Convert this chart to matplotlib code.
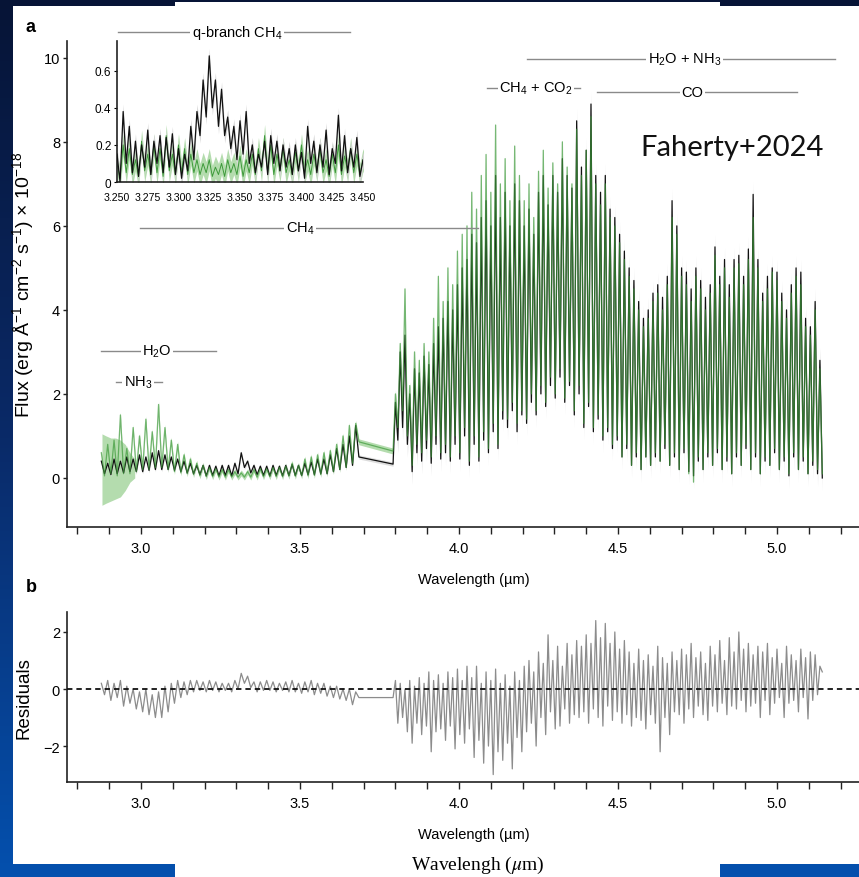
import numpy as np
import matplotlib
matplotlib.use("Agg")
import matplotlib.pyplot as plt
from matplotlib import font_manager
from matplotlib.patches import Rectangle
from matplotlib.colors import LinearSegmentedColormap
from matplotlib.ticker import FuncFormatter

# ---------------- DATA ----------------
# Segment 1 (2.875-3.685 um): peaks at 2.875+0.02k, troughs at 2.885+0.02k
seg1_hi_start, seg1_lo_start, seg1_step = 2.875, 2.885, 0.02
data1_hi = [0.40, 0.35, 0.45, 0.40, 0.50, 0.45, 0.55, 0.50, 0.60, 0.65,
            0.55, 0.50, 0.45, 0.40, 0.35, 0.30, 0.30, 0.30, 0.28, 0.30,
            0.30, 0.35, 0.60, 0.40, 0.30, 0.28, 0.28, 0.30, 0.28, 0.30,
            0.32, 0.30, 0.35, 0.38, 0.45, 0.45, 0.55, 0.70, 0.80, 1.00, 1.25]
data1_lo = [0.10, 0.08, 0.10, 0.12, 0.15, 0.15, 0.15, 0.18, 0.20, 0.20,
            0.20, 0.18, 0.15, 0.12, 0.10, 0.08, 0.05, 0.06, 0.05, 0.06,
            0.05, 0.10, 0.25, 0.12, 0.08, 0.06, 0.05, 0.06, 0.05, 0.06,
            0.06, 0.06, 0.08, 0.08, 0.10, 0.10, 0.15, 0.20, 0.25, 0.30, 0.50]
model1_hi = [0.60, 0.80, 0.90, 1.50, 0.70, 1.20, 1.00, 1.40, 1.10, 1.75,
             1.20, 0.90, 0.80, 0.55, 0.45, 0.35, 0.30, 0.25, 0.22, 0.20,
             0.20, 0.15, 0.12, 0.15, 0.20, 0.22, 0.22, 0.25, 0.25, 0.28,
             0.35, 0.30, 0.45, 0.50, 0.55, 0.60, 0.65, 0.80, 1.00, 1.25, 1.30]
model1_lo = [0.05, 0.10, 0.05, 0.10, 0.10, 0.15, 0.20, 0.20, 0.25, 0.25,
             0.20, 0.15, 0.12, 0.10, 0.08, 0.05, 0.03, 0.03, 0.02, 0.02,
             0.02, 0.02, 0.02, 0.02, 0.02, 0.03, 0.03, 0.03, 0.03, 0.04,
             0.04, 0.05, 0.05, 0.06, 0.08, 0.10, 0.15, 0.20, 0.25, 0.35, 0.86]
# broad model uncertainty at the blue end
band_w = [2.877, 2.89, 2.905, 2.92, 2.935, 2.95, 2.965, 2.98]
band_lo = [-0.65, -0.60, -0.55, -0.50, -0.45, -0.30, -0.10, 0.00]
band_hi = [1.05, 1.00, 0.95, 0.95, 0.90, 0.80, 0.60, 0.45]

# Segment 2 (3.79-5.145 um): troughs at 3.7925+0.015k (91), peaks at 3.80+0.015k (90)
seg2_lo_start, seg2_hi_start, seg2_step = 3.7925, 3.800, 0.015
model2_hi = [2.0, 3.2, 4.5, 2.2, 3.0, 2.8, 3.2, 3.0, 3.8, 4.8,
             4.2, 5.0, 4.6, 5.4, 5.8, 6.0, 6.8, 6.4, 7.2, 7.7,
             6.8, 8.4, 7.0, 7.6, 6.6, 7.9, 7.2, 6.6, 7.0, 6.2,
             7.3, 7.8, 6.9, 7.5, 7.0, 8.0, 7.4, 7.0, 8.3, 7.2,
             7.8, 8.6, 7.0, 6.5, 7.0, 6.2, 6.0, 5.6, 5.2, 4.8,
             4.5, 4.0, 3.6, 3.8, 4.2, 4.4, 4.0, 4.6, 6.2, 5.8,
             4.8, 4.6, 4.2, 4.8, 4.5, 4.0, 4.4, 5.3, 4.6, 5.0,
             4.3, 5.0, 5.1, 4.6, 5.2, 6.2, 5.0, 4.2, 4.5, 4.9,
             4.7, 4.2, 3.8, 4.4, 4.8, 4.6, 3.6, 3.4, 4.0, 2.6]
data2_hi = [1.8, 3.0, 3.4, 2.0, 2.6, 2.5, 2.9, 2.7, 3.2, 3.6,
            3.8, 4.2, 4.0, 4.6, 5.0, 5.2, 5.8, 5.6, 6.2, 6.6,
            6.0, 7.2, 6.2, 6.8, 6.0, 7.0, 6.6, 6.0, 6.4, 5.8,
            6.8, 7.2, 6.5, 7.2, 6.8, 7.6, 7.2, 6.9, 8.5, 7.4,
            7.8, 8.9, 7.2, 6.8, 7.2, 6.4, 6.2, 5.8, 5.4, 5.0,
            4.7, 4.2, 3.8, 4.0, 4.4, 4.6, 4.3, 4.8, 6.6, 6.0,
            5.0, 4.9, 4.5, 5.0, 4.7, 4.3, 4.6, 5.5, 4.8, 5.2,
            4.6, 5.2, 5.3, 4.8, 5.45, 6.75, 5.2, 4.4, 4.8, 5.0,
            4.9, 4.4, 4.0, 4.6, 5.0, 4.9, 3.8, 3.6, 4.2, 2.8]
model2_lo = [0.64, 1.2, 1.6, 1.0, 0.3, 0.8, 0.6, 0.9, 0.5, 1.0,
             0.6, 0.8, 0.5, 1.0, 0.6, 1.2, 0.4, 1.0, 0.5, 1.1,
             0.7, 1.3, 0.8, 1.6, 1.4, 1.8, 1.3, 1.6, 1.4, 2.0,
             1.6, 2.2, 1.8, 2.4, 2.0, 2.6, 1.9, 2.3, 1.6, 2.2,
             1.3, 1.8, 1.2, 1.5, 1.0, 1.2, 0.8, 1.0, 0.5, 0.8,
             0.3, 0.6, 0.2, 0.5, 0.3, 0.6, 0.4, 0.8, 0.3, 0.6,
             0.2, 0.7, 0.1, -0.1, 0.5, 0.2, 0.6, 0.3, 0.7, 0.2,
             0.5, 0.1, 0.6, 0.3, 0.8, 0.2, 0.6, 0.1, 0.5, 0.3,
             0.7, 0.2, 0.5, 0.1, 0.6, 0.2, 0.5, 0.1, 0.4, 0.2, 0.1]
data2_lo = [0.33, 0.9, 1.2, 0.8, 0.15, 0.6, 0.4, 0.7, 0.35, 0.8,
            0.45, 0.6, 0.4, 0.8, 0.45, 1.0, 0.3, 0.8, 0.4, 0.9,
            0.6, 1.1, 0.7, 1.4, 1.2, 1.6, 1.1, 1.5, 1.3, 1.8,
            1.5, 2.0, 1.7, 2.2, 1.9, 2.4, 1.8, 2.2, 1.5, 2.0,
            1.2, 1.7, 1.1, 1.4, 0.9, 1.1, 0.7, 0.9, 0.5, 0.7,
            0.3, 0.5, 0.2, 0.5, 0.3, 0.5, 0.4, 0.7, 0.3, 0.5,
            0.2, 0.6, 0.15, 0.05, 0.4, 0.2, 0.5, 0.3, 0.6, 0.2,
            0.4, 0.1, 0.5, 0.3, 0.7, 0.2, 0.5, 0.1, 0.4, 0.3,
            0.6, 0.2, 0.4, 0.05, 0.5, 0.2, 0.4, 0.1, 0.3, 0.1, 0.0]

# Residuals (same grids)
res1_hi = [0.2, 0.3, 0.2, 0.3, 0.1, 0.0, -0.1, 0.0, -0.2, -0.1,
           0.1, 0.2, 0.3, 0.25, 0.3, 0.3, 0.25, 0.3, 0.25, 0.2,
           0.2, 0.3, 0.55, 0.45, 0.25, 0.25, 0.3, 0.25, 0.2, 0.25,
           0.3, 0.2, 0.25, 0.3, 0.2, 0.2, 0.1, 0.1, 0.0, 0.0, -0.1]
res1_lo = [-0.2, -0.4, -0.3, -0.6, -0.5, -0.7, -0.8, -0.9, -1.0, -1.0,
           -0.8, -0.5, -0.3, -0.2, -0.1, -0.05, -0.1, -0.05, -0.1, -0.05,
           -0.1, 0.0, 0.2, 0.05, -0.1, -0.05, -0.05, -0.1, -0.05, -0.1,
           -0.1, -0.15, -0.1, -0.2, -0.15, -0.25, -0.3, -0.35, -0.4, -0.55, -0.3]
res2_hi = [0.3, 0.2, 0.0, 0.3, 0.1, 0.4, 0.2, 0.6, 0.3, 0.5, 0.2, 0.6, 0.4, 0.7, 0.3, 0.8,
           0.4, 0.8, 0.2, 0.6, 0.3, 0.7, 0.2, 0.5, 0.1, 0.6, 0.3, 0.8,
           1.0, 0.6, 1.3, 0.9, 1.9, 1.0, 1.5, 0.8, 1.6, 1.2, 1.7,
           1.5, 1.9, 1.6, 2.4, 1.8, 2.3, 1.6, 2.0, 1.4, 1.7,
           1.3, 0.9, 1.4, 1.0, 1.2, 0.8, 1.5, 1.1, 0.9, 1.3,
           1.0, 1.4, 1.2, 1.6, 1.1, 1.3, 0.9, 1.5, 1.2, 1.7, 1.0, 1.8, 1.3, 2.0, 1.4, 1.6, 1.2, 1.5,
           1.3, 1.6, 1.1, 1.4, 0.9, 1.5, 1.2, 1.0, 1.4, 1.1, 1.3, 1.2, 0.8]
res2_lo = [-0.3, -1.2, -1.0, -1.5, -1.9, -1.2, -1.6, -1.3, -2.2, -1.5, -1.4, -1.8, -1.3, -2.1, -1.6, -1.9, -1.4,
           -2.4, -1.8, -2.6, -2.0, -3.0, -2.2, -2.5, -1.9, -2.8, -1.7, -2.2, -1.5,
           -1.2, -2.0, -1.0, -1.6, -0.8, -1.4, -1.3, -0.7, -1.2, -0.9, -1.0,
           -0.8, -1.2, -0.7, -1.0, -1.3, -0.6, -1.1, -0.8, -1.2, -0.9,
           -1.3, -1.0, -1.1, -1.4, -0.9, -1.2, -2.2, -1.0, -1.6, -0.8,
           -0.9, -1.2, -0.7, -1.0, -0.6, -0.9, -1.1, -0.6, -0.8, -0.5, -0.9, -0.6, -0.7, -0.4, -0.8, -0.6, -0.5, -1.0,
           -0.4, -0.9, -0.5, -0.3, -1.0, -0.5, -0.4, -0.8, -0.3, -1.05, -0.4, -0.2, 0.6]

# Inset (3.25-3.45 um): peaks at 3.250+0.005k, troughs at 3.2525+0.005k
ins_hi_start, ins_lo_start, ins_step = 3.250, 3.2525, 0.005
ins_data_hi = [0.15, 0.38, 0.30, 0.22, 0.20, 0.28, 0.22, 0.25, 0.24, 0.26,
               0.18, 0.15, 0.30, 0.38, 0.55, 0.68, 0.55, 0.50, 0.35, 0.30,
               0.33, 0.38, 0.20, 0.15, 0.22, 0.25, 0.22, 0.20, 0.18, 0.20,
               0.16, 0.30, 0.22, 0.20, 0.28, 0.18, 0.36, 0.25, 0.18, 0.24, 0.12]
ins_data_lo = [0.00, 0.10, 0.05, 0.03, 0.08, 0.04, 0.10, 0.05, 0.08, 0.04,
               0.02, 0.06, 0.12, 0.25, 0.35, 0.40, 0.30, 0.25, 0.18, 0.12,
               0.15, 0.10, 0.05, 0.08, 0.04, 0.10, 0.06, 0.08, 0.04, 0.06,
               0.02, 0.10, 0.05, 0.08, 0.04, 0.10, 0.06, 0.05, 0.08, 0.03, 0.06]
ins_model_hi = [0.10, 0.20, 0.18, 0.12, 0.22, 0.15, 0.20, 0.18, 0.25, 0.15,
                0.20, 0.18, 0.15, 0.12, 0.10, 0.12, 0.08, 0.10, 0.12, 0.10,
                0.14, 0.12, 0.15, 0.18, 0.25, 0.20, 0.15, 0.18, 0.12, 0.16,
                0.20, 0.12, 0.15, 0.18, 0.12, 0.15, 0.20, 0.14, 0.18, 0.15, 0.12]
ins_model_lo = [0.02, 0.05, 0.04, 0.03, 0.06, 0.04, 0.05, 0.03, 0.06, 0.04,
                0.05, 0.04, 0.05, 0.04, 0.05, 0.03, 0.04, 0.03, 0.05, 0.04,
                0.03, 0.05, 0.04, 0.06, 0.05, 0.04, 0.06, 0.05, 0.04, 0.06,
                0.05, 0.04, 0.06, 0.05, 0.03, 0.05, 0.04, 0.06, 0.05, 0.04, 0.05]

main_xticks = [2.8, 2.9, 3.0, 3.1, 3.2, 3.3, 3.4, 3.5, 3.6, 3.7, 3.8, 3.9, 4.0,
               4.1, 4.2, 4.3, 4.4, 4.5, 4.6, 4.7, 4.8, 4.9, 5.0, 5.1, 5.2]
main_yticks = [0, 2, 4, 6, 8, 10]
res_yticks = [-2, 0, 2]
ins_xticks = [3.250, 3.275, 3.300, 3.325, 3.350, 3.375, 3.400, 3.425, 3.450]
ins_yticks = [0, 0.2, 0.4, 0.6]

# label, x start, x end, y, text x
annots_main = [
    (r"CH$_\mathregular{4}$", 2.997, 4.06, 5.95, 3.50),
    (r"H$_\mathregular{2}$O + NH$_\mathregular{3}$", 4.214, 5.182, 9.98, 4.71),
    (r"CH$_\mathregular{4}$ + CO$_\mathregular{2}$", 4.088, 4.38, 9.29, 4.242),
    (r"CO", 4.434, 5.063, 9.19, 4.733),
    (r"H$_\mathregular{2}$O", 2.874, 3.236, 3.02, 3.05),
    (r"NH$_\mathregular{3}$", 2.921, 3.066, 2.29, 2.99),
]
annot_inset = (r"q-branch CH$_\mathregular{4}$", 3.2508, 3.4394, 0.81, 3.3476)


# ---------------- helpers ----------------
def grid(start, step, n):
    return start + step * np.arange(n)


def zigzag(w_a, v_a, w_b, v_b):
    w = np.concatenate([w_a, w_b])
    v = np.concatenate([np.asarray(v_a, float), np.asarray(v_b, float)])
    o = np.argsort(w)
    return w[o], v[o]


names = {f.name for f in font_manager.fontManager.ttflist}
NARROW = 'Liberation Sans Narrow' if 'Liberation Sans Narrow' in names else 'Liberation Sans'
WIDE = 'Liberation Sans'
plt.rcParams['font.family'] = [NARROW, 'DejaVu Sans']
plt.rcParams['mathtext.fontset'] = 'custom'
plt.rcParams['mathtext.rm'] = NARROW

# build series
w1h = grid(seg1_hi_start, seg1_step, len(data1_hi))
w1l = grid(seg1_lo_start, seg1_step, len(data1_lo))
w2l = grid(seg2_lo_start, seg2_step, len(data2_lo))
w2h = grid(seg2_hi_start, seg2_step, len(data2_hi))

wd1, d1 = zigzag(w1h, data1_hi, w1l, data1_lo)
wd2, d2 = zigzag(w2l, data2_lo, w2h, data2_hi)
wm1, m1 = zigzag(w1h, model1_hi, w1l, model1_lo)
wm2, m2 = zigzag(w2l, model2_lo, w2h, model2_hi)
wr1, r1 = zigzag(w1h, res1_hi, w1l, res1_lo)
wr2, r2 = zigzag(w2l, res2_lo, w2h, res2_hi)
w_all = np.concatenate([wd1, wd2])
data_all = np.concatenate([d1, d2])
model_all = np.concatenate([m1, m2])
res_all = np.concatenate([r1, r2])

wih = grid(ins_hi_start, ins_step, len(ins_data_hi))
wil = grid(ins_lo_start, ins_step, len(ins_data_lo))
wi, di = zigzag(wih, ins_data_hi, wil, ins_data_lo)
_, mi = zigzag(wih, ins_model_hi, wil, ins_model_lo)

# ---------------- figure ----------------
W, H = 859, 878
fig = plt.figure(figsize=(W / 100, H / 100), dpi=100)

bg = fig.add_axes([0, 0, 1, 1], zorder=-10)
cmap = LinearSegmentedColormap.from_list('bg', ['#061436', '#0a2a68', '#0450ae'])
bg.imshow(np.linspace(0, 1, 256).reshape(-1, 1), aspect='auto', cmap=cmap,
          extent=[0, 1, 0, 1])
bg.set_xlim(0, 1); bg.set_ylim(0, 1)
bg.axis('off')
bg.add_patch(Rectangle((175 / W, 0), (720 - 175) / W, (H - 3) / H,
                       transform=bg.transAxes, color='white', lw=0))
bg.add_patch(Rectangle((13 / W, 1 - 865 / H), (W - 13) / W, (865 - 7) / H,
                       transform=bg.transAxes, color='white', lw=0))
fig.text(478 / W, 1 - 876 / H, r"Wavelengh ($\mu$m)", family='Liberation Serif',
         fontsize=14, ha='center', va='bottom', math_fontfamily='stix')


def px_axes(x0, y0, x1, y1):
    return [x0 / W, 1 - y1 / H, (x1 - x0) / W, (y1 - y0) / H]


def style(ax):
    for s in ['top', 'right']:
        ax.spines[s].set_visible(False)
    for s in ['left', 'bottom']:
        ax.spines[s].set_color('#222222')
        ax.spines[s].set_linewidth(1.2)
    ax.set_facecolor('none')


GREEN = '#3d9a3a'
LGREEN = '#b4dcae'
TICK_FS = 10.5
ANN_FS = 10.5

# ---- panel a ----
ax = fig.add_axes(px_axes(67, 42, 880, 528))
style(ax)
ax.set_xlim(2.767, 5.324)
ax.set_ylim(-1.167, 10.40)
err_d = np.where(w_all < 3.795, 0.05, 0.3)
ax.fill_between(band_w, band_lo, band_hi, color=LGREEN, lw=0, zorder=1)
ax.fill_between(w_all, model_all - 0.07, model_all + 0.07, color=LGREEN, lw=0, zorder=1.2)
ax.fill_between(w_all, data_all - err_d, data_all + err_d, color='#d4d4d4', lw=0,
                alpha=0.8, zorder=1.5)
ax.plot(w_all, data_all, color='#111111', lw=0.9, zorder=2)
ax.plot(w_all, model_all, color=GREEN, lw=0.9, alpha=0.7, zorder=3)

ax.set_xticks(main_xticks)
ax.xaxis.set_major_formatter(FuncFormatter(
    lambda v, p: f"{v:.1f}" if abs(v * 2 - round(v * 2)) < 1e-6 else ""))
ax.set_yticks(main_yticks)
ax.tick_params(axis='x', length=5, width=1, color='#222222', pad=5, labelsize=TICK_FS)
ax.tick_params(axis='y', length=3, width=1, color='#222222', pad=2, labelsize=TICK_FS)
ax.set_xlabel("Wavelength (µm)", fontsize=10.5, labelpad=12)
ax.set_ylabel(r"Flux (erg Å$^{\mathregular{-1}}$ cm$^{\mathregular{-2}}$ s$^{\mathregular{-1}}$) × 10$^{\mathregular{-18}}$",
              family=WIDE, fontsize=14, labelpad=5)

for lab, x1, x2, y, xt in annots_main:
    ax.plot([x1, x2], [y, y], color='#8a8a8a', lw=1, zorder=4, clip_on=False)
    ax.text(xt, y, lab, ha='center', va='center', fontsize=ANN_FS, zorder=5,
            bbox=dict(facecolor='white', edgecolor='none', pad=1.2), clip_on=False)

fig.text(640 / W, 1 - 148 / H, "Faherty+2024", family='Lato', fontweight='normal',
         fontsize=21, ha='left', va='center', color='#111111')
fig.text(26 / W, 1 - 28 / H, "a", fontsize=13, fontweight='bold', va='center')
fig.text(26 / W, 1 - 588 / H, "b", fontsize=13, fontweight='bold', va='center')

# ---- inset ----
axi = fig.add_axes(px_axes(117, 42, 363, 183))
style(axi)
axi.set_xlim(3.25, 3.45)
axi.set_ylim(0, 0.76)
axi.fill_between(wi, mi - 0.06, mi + 0.06, color=LGREEN, lw=0, zorder=1)
axi.fill_between(wi, di - 0.04, di + 0.04, color='#d4d4d4', lw=0, zorder=1.5)
axi.plot(wi, mi, color=GREEN, lw=0.7, zorder=2)
axi.plot(wi, di, color='#111111', lw=0.9, zorder=3)
axi.set_xticks(ins_xticks)
axi.xaxis.set_major_formatter(FuncFormatter(lambda v, p: f"{v:.3f}"))
axi.set_yticks(ins_yticks)
axi.yaxis.set_major_formatter(FuncFormatter(lambda v, p: "0" if v == 0 else f"{v:.1f}"))
axi.tick_params(axis='x', length=0, pad=7, labelsize=7.6)
axi.tick_params(axis='y', length=2, width=0.8, pad=2, labelsize=8.5)
lab, x1, x2, y, xt = annot_inset
axi.plot([x1, x2], [y, y], color='#8a8a8a', lw=1, clip_on=False)
axi.text(xt, y, lab, ha='center', va='center', fontsize=ANN_FS, clip_on=False,
         bbox=dict(facecolor='white', edgecolor='none', pad=1.2))

# ---- panel b ----
axr = fig.add_axes(px_axes(67, 613, 880, 783))
style(axr)
axr.set_xlim(2.767, 5.324)
axr.set_ylim(-3.26, 2.70)
axr.plot(w_all, res_all, color='#8c8c8c', lw=0.9, zorder=2)
axr.axhline(0, color='#111111', lw=1.3, ls=(0, (3, 2.2)), zorder=3)
axr.set_xticks(main_xticks)
axr.xaxis.set_major_formatter(FuncFormatter(
    lambda v, p: f"{v:.1f}" if abs(v * 2 - round(v * 2)) < 1e-6 else ""))
axr.set_yticks(res_yticks)
axr.tick_params(axis='x', length=5, width=1, color='#222222', pad=5, labelsize=TICK_FS)
axr.tick_params(axis='y', length=3, width=1, color='#222222', pad=2, labelsize=TICK_FS)
axr.set_xlabel("Wavelength (µm)", fontsize=10.5, labelpad=12)
axr.set_ylabel("Residuals", family=WIDE, fontsize=13.5, labelpad=8)

fig.savefig("out.png", dpi=100)
